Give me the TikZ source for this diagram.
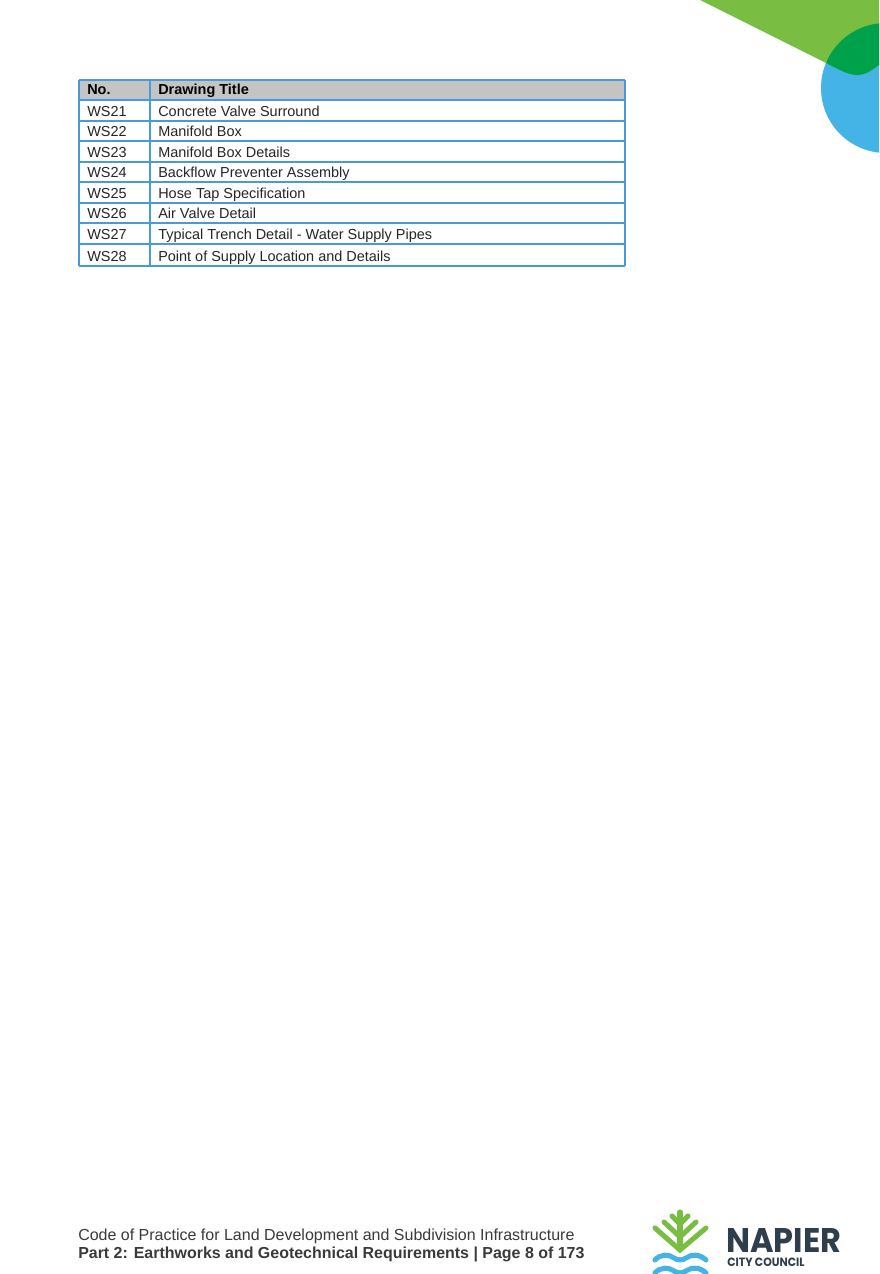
\documentclass[tikz,border=0pt]{standalone}
\usepackage{fontspec}
\setmainfont{Liberation Sans}
\newfontfamily\logofont{Poppins}
\definecolor{tline}{HTML}{4A9ADB}
\definecolor{thead}{HTML}{C4C4C4}
\definecolor{ltgreen}{HTML}{7ABD43}
\definecolor{dkgreen}{HTML}{00A14B}
\definecolor{skyblue}{HTML}{44B4E6}
\definecolor{logotext}{HTML}{2E3E4B}
\definecolor{foot}{HTML}{3A3A3A}
\tikzset{
  cell/.style={anchor=base west,inner sep=0pt,font=\fontsize{10.85pt}{12pt}\selectfont,text=black!85},
  headcell/.style={cell,font=\fontsize{10.85pt}{12pt}\selectfont\bfseries,text=black},
  rule/.style={draw=tline,line width=1.5pt},
  footline/.style={anchor=base west,inner sep=0pt,text=foot},
  branch/.style={draw=ltgreen,line width=3.8pt,line cap=round,line join=miter},
  wave/.style={draw=skyblue,line width=3.8pt,line cap=round}
}
\begin{document}
\begin{tikzpicture}[x=0.75pt,y=-0.75pt]
\useasboundingbox (0,0) rectangle (879,1274);
\fill[white] (0,0) rectangle (879,1274);
% corner
\begin{scope}
\clip (0,0) rectangle (879,1274);
\fill[skyblue] (886,88) circle[radius=65];
\fill[ltgreen] (700,0) -- (826,63) .. controls (838,69) and (848,75) .. (857,75) .. controls (866,75) and (872,70) .. (879,65) -- (879,0) -- cycle;
\begin{scope}
\clip (886,88) circle[radius=65];
\fill[dkgreen] (700,0) -- (826,63) .. controls (838,69) and (848,75) .. (857,75) .. controls (866,75) and (872,70) .. (879,65) -- (879,0) -- cycle;
\end{scope}
% table
\fill[thead] (79,80) rectangle (625,100);
\foreach \y in {80,100,121,141,162,182,203,223,244,266} \draw[rule] (79,\y) -- (625,\y);
\draw[rule] (79,80) -- (79,266);
\draw[rule] (150,80) -- (150,266);
\draw[rule] (625,80) -- (625,266);
\end{scope}
\node[headcell] (h1) at (87,94) {No.};
\node[headcell] (h2) at (158,94) {Drawing Title};
\node[cell] (a1) at (87,116) {WS21};
\node[cell] (b1) at (158,116) {Concrete Valve Surround};
\node[cell] (a2) at (87,136) {WS22};
\node[cell] (b2) at (158,136) {Manifold Box};
\node[cell] (a3) at (87,157) {WS23};
\node[cell] (b3) at (158,157) {Manifold Box Details};
\node[cell] (a4) at (87,177) {WS24};
\node[cell] (b4) at (158,177) {Backflow Preventer Assembly};
\node[cell] (a5) at (87,198) {WS25};
\node[cell] (b5) at (158,198) {Hose Tap Specification};
\node[cell] (a6) at (87,218) {WS26};
\node[cell] (b6) at (158,218) {Air Valve Detail};
\node[cell] (a7) at (87,239) {WS27};
\node[cell] (b7) at (158,239) {Typical Trench Detail - Water Supply Pipes};
\node[cell] (a8) at (87,261) {WS28};
\node[cell] (b8) at (158,261) {Point of Supply Location and Details};
% footer
\node[footline,font=\fontsize{12pt}{14pt}\selectfont] (f1) at (78,1240) {Code of Practice for Land Development and Subdivision Infrastructure};
\node[footline,font=\fontsize{11.97pt}{14pt}\selectfont\bfseries] (f2) at (78,1258) {Part 2: Earthworks and Geotechnical Requirements | Page 8 of 173};
% logo
\begin{scope}
\clip (0,0) rectangle (879,1274);
\draw[branch] (680,1212) -- (680,1250);
\draw[branch] (655,1228) -- (680,1250) -- (706,1228);
\draw[branch] (664,1222) -- (680,1237) -- (696,1222);
\draw[branch] (672,1216) -- (680,1224) -- (688,1216);
\draw[wave] (655,1260) .. controls (660,1254) and (669,1254) .. (674,1258) .. controls (677,1260.5) and (683,1260.5) .. (686,1258) .. controls (691,1254) and (700,1254) .. (706,1260);
\draw[wave] (655,1273) .. controls (660,1267) and (669,1267) .. (674,1271) .. controls (677,1273.5) and (683,1273.5) .. (686,1271) .. controls (691,1267) and (700,1267) .. (706,1273);
\node[anchor=base west,inner sep=0pt,text=logotext,font=\logofont\bfseries] (n1) at (726,1252) {\resizebox{86.25pt}{18pt}{NAPIER}};
\node[anchor=base west,inner sep=0pt,text=logotext,font=\logofont\bfseries] (n2) at (727,1266) {\resizebox{58pt}{6.4pt}{CITY COUNCIL}};
\end{scope}
\end{tikzpicture}
\end{document}
